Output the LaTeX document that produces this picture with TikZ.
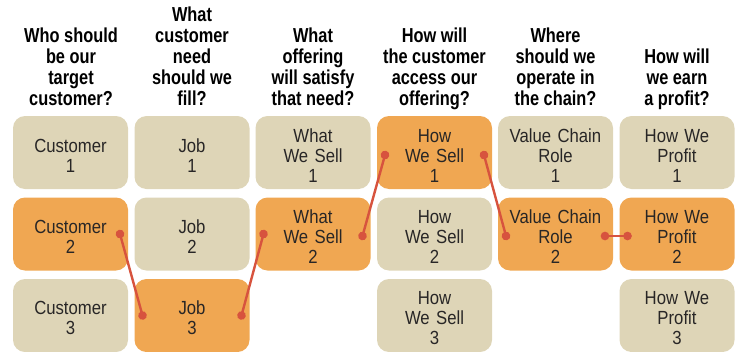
\documentclass[tikz,border=0pt]{standalone}
\usepackage{fontspec}
\usepackage{tikz}
\usetikzlibrary{arrows.meta,positioning}
\newfontfamily\boxfont[FakeStretch=0.88]{Liberation Sans}
\newfontfamily\headfont[FakeStretch=0.81]{Liberation Sans}
\definecolor{sand}{RGB}{222,213,183}
\definecolor{amber}{RGB}{240,167,82}
\definecolor{linkred}{RGB}{215,83,62}
\definecolor{ink}{RGB}{40,38,38}
\tikzset{
  choice/.style={
    rectangle,
    rounded corners=12pt,
    fill=sand,
    minimum width=115pt,
    minimum height=73pt,
    inner sep=0pt, outer sep=0pt,
    text width=110pt,
    align=center,
    text=ink,
    execute at begin node={\rule{0pt}{19pt}},
    font=\boxfont\fontsize{19}{20}\selectfont},
  picked/.style={choice, fill=amber},
  question/.style={
    anchor=south,
    inner sep=0pt,
    align=center,
    text=black,
    font=\headfont\bfseries\fontsize{20.2}{21}\selectfont},
  link/.style={draw=linkred, line width=2.4pt,
    {Circle[length=8.5pt]}-{Circle[length=8.5pt]},
    shorten <=-4.25pt, shorten >=-4.25pt},
}

\begin{document}
\begin{tikzpicture}[x=1pt, y=-1pt]
    \useasboundingbox (0,0) rectangle (739,351);

    %questions
    \node[question] (q1) at (71,112) {Who should\\be our\\target\\customer?\strut};
    \node[question] (q2) at (192,112) {What\\customer\\need\\should we\\fill?\strut};
    \node[question] (q3) at (313,112) {What\\offering\\will satisfy\\that need?\strut};
    \node[question] (q4) at (434.5,112) {How will\\the customer\\access our\\offering?\strut};
    \node[question] (q5) at (555.5,112) {Where\\should we\\operate in\\the chain?\strut};
    \node[question] (q6) at (677,112) {How will\\we earn\\a profit?\strut};

    %who
    \node[choice] (cust1) at (70.5,152.5) {Customer\\1};
    \node[picked] (cust2) at (70.5,234) {Customer\\2};
    \node[choice] (cust3) at (70.5,315.5) {Customer\\3};

    %need
    \node[choice] (job1) at (192,152.5) {Job\\1};
    \node[choice] (job2) at (192,234) {Job\\2};
    \node[picked] (job3) at (192,315.5) {Job\\3};

    %offering
    \node[choice] (what1) at (313,152.5) {What\\We Sell\\1};
    \node[picked] (what2) at (313,234) {What\\We Sell\\2};

    %access
    \node[picked] (how1) at (434.5,152.5) {How\\We Sell\\1};
    \node[choice] (how2) at (434.5,234) {How\\We Sell\\2};
    \node[choice] (how3) at (434.5,315.5) {How\\We Sell\\3};

    %chain
    \node[choice] (role1) at (555.5,152.5) {Value Chain\\Role\\1};
    \node[picked] (role2) at (555.5,234) {Value Chain\\Role\\2};

    %profit
    \node[choice] (profit1) at (677,152.5) {How We\\Profit\\1};
    \node[picked] (profit2) at (677,234) {How We\\Profit\\2};
    \node[choice] (profit3) at (677,315.5) {How We\\Profit\\3};

    %path through the choices
    \draw[link] ([xshift=-8pt]cust2.east) -- ([xshift=8pt]job3.west);
    \draw[link] ([xshift=-8pt]job3.east) -- ([xshift=8pt]what2.west);
    \draw[link] ([xshift=-8pt,yshift=-2pt]what2.east) -- ([xshift=8pt,yshift=-2.5pt]how1.west);
    \draw[link] ([xshift=-8pt,yshift=-2.5pt]how1.east) -- ([xshift=8pt,yshift=-2pt]role2.west);
    \draw[link] ([xshift=-8pt,yshift=-2pt]role2.east) -- ([xshift=8pt,yshift=-2pt]profit2.west);

\end{tikzpicture}
\end{document}
